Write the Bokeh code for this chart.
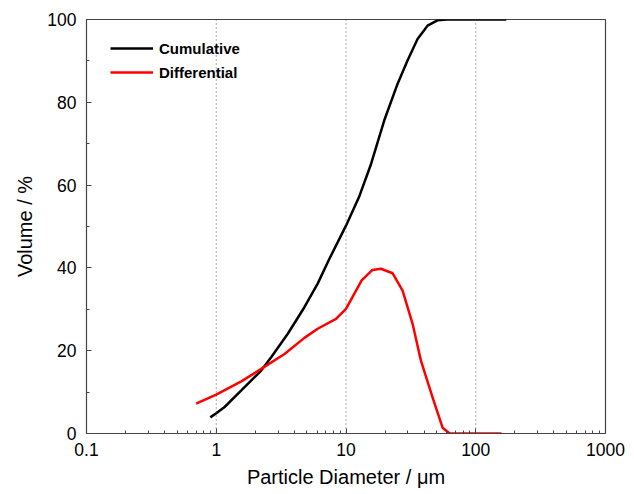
from bokeh.plotting import figure
from bokeh.models import Range1d, Legend, LegendItem, FixedTicker, Span, CustomJSTickFormatter
from bokeh.embed import file_html
from bokeh.resources import INLINE

# Data
cum_x = [0.90, 1.0, 1.16, 1.56, 2.22, 2.65, 3.56, 4.78, 6.05, 7.45, 10, 12.6, 15.6, 19.7, 25, 29.8, 35.6, 42.5, 50.7, 60, 80, 100, 172]
cum_y = [3.9, 4.9, 6.4, 10.4, 15.2, 18.4, 24.1, 30.5, 36.2, 42.2, 50.2, 57.1, 65.1, 75.6, 84.5, 90.1, 95.3, 98.5, 99.8, 100, 100, 100, 100]

diff_x = [0.70, 1.0, 1.56, 2.22, 3.36, 4.78, 6.05, 8.38, 10, 13.2, 16, 18.6, 22.9, 27.3, 32.6, 37.8, 46.4, 55.5, 63, 100, 158]
diff_y = [7.2, 9.4, 12.6, 15.6, 19.2, 23.1, 25.3, 27.7, 30.1, 37.0, 39.5, 39.8, 38.7, 34.5, 26.5, 17.6, 8.8, 1.4, 0, 0, 0]

x_ticks = [0.1, 1, 10, 100, 1000]
x_grid = [1, 10, 100]
y_ticks = [0, 20, 40, 60, 80, 100]

FONT = "Liberation Sans"

p = figure(width=634, height=494, x_axis_type="log",
           x_range=Range1d(0.1, 1000), y_range=Range1d(0, 100),
           output_backend="svg", toolbar_location=None,
           min_border_left=86, min_border_right=29, min_border_top=19, min_border_bottom=61,
           frame_width=519, frame_height=414)
p.outline_line_color = "#444444"
p.outline_line_width = 1.2
p.background_fill_color = "white"
p.border_fill_color = "white"

p.xgrid.visible = False
p.ygrid.visible = False
for gx in x_grid:
    p.add_layout(Span(location=gx, dimension="height", line_color="#555555",
                      line_dash="1 3", line_width=1))

xa = p.xaxis[0]
xa.ticker = FixedTicker(ticks=x_ticks, minor_ticks=[v * k for v in [0.1, 1, 10, 100] for k in range(2, 10)])
xa.formatter = CustomJSTickFormatter(code="return tick < 1 ? tick.toString() : tick.toFixed(0);")
ya = p.yaxis[0]
ya.ticker = FixedTicker(ticks=y_ticks, minor_ticks=[10, 30, 50, 70, 90])

for ax in (xa, ya):
    ax.axis_line_color = "#444444"
    ax.major_tick_line_color = "#444444"
    ax.minor_tick_line_color = "#444444"
    ax.major_tick_in = 5
    ax.major_tick_out = 0
    ax.minor_tick_in = 3
    ax.minor_tick_out = 0
    ax.major_label_text_font = FONT
    ax.major_label_text_font_size = "17.5px"
    ax.major_label_text_color = "black"
    ax.axis_label_text_font = FONT
    ax.axis_label_text_font_size = "20px"
    ax.axis_label_text_font_style = "normal"
    ax.axis_label_text_color = "black"

xa.axis_label = "Particle Diameter / μm"
xa.major_label_standoff = 9
xa.axis_label_standoff = 7
ya.axis_label = "Volume / %"
ya.major_label_standoff = 10
ya.axis_label_standoff = 8

r1 = p.line(cum_x, cum_y, line_color="black", line_width=2.5)
r2 = p.line(diff_x, diff_y, line_color="#ff0000", line_width=2.5)

legend = Legend(items=[LegendItem(label="Cumulative", renderers=[r1]),
                       LegendItem(label="Differential", renderers=[r2])],
                location=(24, 351), margin=0, padding=0, spacing=4,
                glyph_width=43, glyph_height=20, label_standoff=6,
                label_text_font=FONT, label_text_font_size="15px",
                label_text_font_style="bold", label_text_color="black",
                label_height=20,
                border_line_alpha=0, background_fill_alpha=0)
p.add_layout(legend)

open("out.html", "w").write(file_html(p, INLINE))
